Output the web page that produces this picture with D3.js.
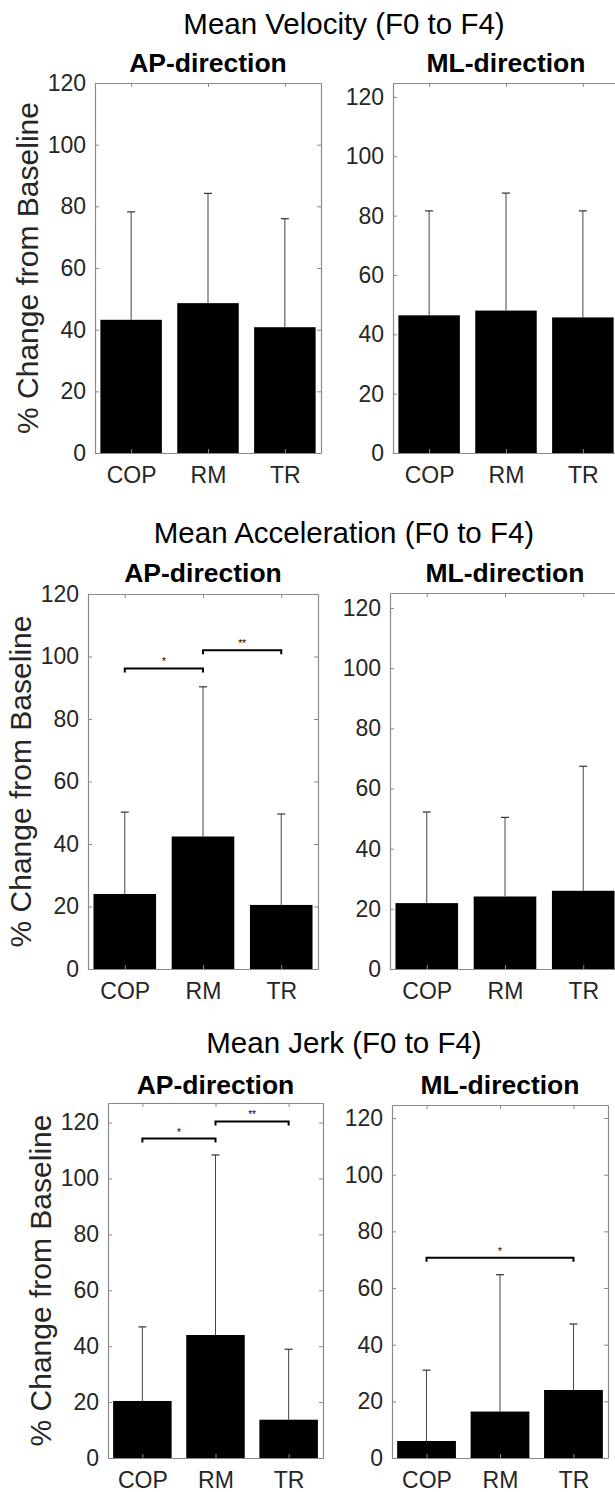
<!DOCTYPE html>
<head>
    <meta charset="utf-8">
    <title>Mean Velocity / Acceleration / Jerk</title>
    <style>
        body { margin: 0; background: #fff; overflow: hidden; }
        text { font-family: "Liberation Sans", Arial, Helvetica, sans-serif; }
    </style>
</head>
<body>

<svg width="615" height="1492"></svg>

<script src="https://d3js.org/d3.v7.min.js"></script>

<script>

// ---- data ----
var categories = ['COP', 'RM', 'TR'];
var yTicks = [0, 20, 40, 60, 80, 100, 120];

var velAPMean = [43.2, 48.6, 40.8],  velAPSd = [35.0, 35.6, 35.2];
var velMLMean = [46.4, 48.0, 45.7],  velMLSd = [35.2, 39.6, 35.9];
var accAPMean = [24.0, 42.4, 20.5],  accAPSd = [26.2, 47.9, 29.1];
var accMLMean = [21.9, 24.1, 26.0],  accMLSd = [30.3, 26.3, 41.4];
var jerkAPMean = [20.4, 44.0, 13.7], jerkAPSd = [26.5, 64.4, 25.2];
var jerkMLMean = [6.0, 16.4, 24.0],  jerkMLSd = [25.0, 48.3, 23.3];

// significance brackets: [from, to, height, label]
var accAPSig = [[0, 1, 96.2, '*'], [1, 2, 102, '**']];
var jerkAPSig = [[0, 1, 114.3, '*'], [1, 2, 120.4, '**']];
var jerkMLSig = [[0, 2, 70.7, '*']];

var yMax = [120, 124.7, 120, 125, 127, 124.6];

// ---- layout ----
var svg = d3.select('svg');
var xlim = [0.53, 3.47];

var rows = [
    { title: 'Mean Velocity (F0 to F4)', ty: 23, sy: 63, panels: [
        { box: [95, 321, 83, 453], mean: velAPMean, sd: velAPSd, sig: [], ymax: yMax[0], name: 'AP-direction', ylab: true },
        { box: [393, 619, 83, 453], mean: velMLMean, sd: velMLSd, sig: [], ymax: yMax[1], name: 'ML-direction' } ] },
    { title: 'Mean Acceleration (F0 to F4)', ty: 532, sy: 573, panels: [
        { box: [88, 318, 594, 969], mean: accAPMean, sd: accAPSd, sig: accAPSig, ymax: yMax[2], name: 'AP-direction', ylab: true },
        { box: [390, 620, 593, 969], mean: accMLMean, sd: accMLSd, sig: [], ymax: yMax[3], name: 'ML-direction' } ] },
    { title: 'Mean Jerk (F0 to F4)', ty: 1042, sy: 1085, panels: [
        { box: [108, 323, 1103, 1458], mean: jerkAPMean, sd: jerkAPSd, sig: jerkAPSig, ymax: yMax[4], name: 'AP-direction', ylab: true },
        { box: [392, 608, 1105, 1458], mean: jerkMLMean, sd: jerkMLSd, sig: jerkMLSig, ymax: yMax[5], name: 'ML-direction' } ] }
];

rows.forEach(row => {
    svg.append('text')
        .attr('x', 344).attr('y', row.ty)
        .attr('text-anchor', 'middle').attr('dominant-baseline', 'central')
        .style('font-size', '29.5px').attr('fill', '#000')
        .text(row.title);

    row.panels.forEach(p => drawPanel(p, row.sy));
});

function drawPanel(p, sy) {
    var [x0, x1, y0, y1] = p.box;
    var x = d3.scaleLinear().domain(xlim).range([x0, x1]);
    var y = d3.scaleLinear().domain([0, p.ymax]).range([y1, y0]);
    var g = svg.append('g');

    // bars
    g.selectAll('rect.bar')
        .data(p.mean)
        .enter().append('rect')
            .attr('class', 'bar')
            .attr('x', (d, i) => x(i + 1 - 0.4))
            .attr('width', (d, i) => x(i + 1.4) - x(i + 0.6))
            .attr('y', d => y(d))
            .attr('height', d => y(0) - y(d))
            .attr('fill', '#000');

    // one-sided error bars (upward)
    var eb = g.selectAll('g.eb')
        .data(p.mean.map((m, i) => ({ i: i, m: m, top: m + p.sd[i] })))
        .enter().append('g');
    eb.append('line')
        .attr('x1', d => x(d.i + 1)).attr('x2', d => x(d.i + 1))
        .attr('y1', d => y(d.m)).attr('y2', d => y(d.top))
        .attr('stroke', '#444').attr('stroke-width', 1);
    eb.append('line')
        .attr('x1', d => x(d.i + 1) - 4).attr('x2', d => x(d.i + 1) + 4)
        .attr('y1', d => y(d.top)).attr('y2', d => y(d.top))
        .attr('stroke', '#333').attr('stroke-width', 1.2);

    // axes - MATLAB style box with inward ticks
    var xticks = [1, 2, 3];
    var axisColor = '#8a8a8a';

    var gl = g.append('g').attr('transform', `translate(${x0},0)`)
        .call(d3.axisLeft(y).tickValues(yTicks).tickSize(-4).tickSizeOuter(0).tickPadding(9));
    var gr = g.append('g').attr('transform', `translate(${x1},0)`)
        .call(d3.axisRight(y).tickValues(yTicks).tickSize(-4).tickSizeOuter(0).tickFormat(''));
    var gb = g.append('g').attr('transform', `translate(0,${y1})`)
        .call(d3.axisBottom(x).tickValues(xticks).tickSize(-4).tickSizeOuter(0).tickPadding(14)
            .tickFormat(d => categories[d - 1]));
    var gt = g.append('g').attr('transform', `translate(0,${y0})`)
        .call(d3.axisTop(x).tickValues(xticks).tickSize(-4).tickSizeOuter(0).tickFormat(''));

    [gl, gr, gb, gt].forEach(a => {
        a.selectAll('path.domain').attr('stroke', axisColor).attr('stroke-width', 1.2);
        a.selectAll('.tick line').attr('stroke', axisColor);
        a.selectAll('.tick text')
            .attr('fill', '#262626')
            .style('font-size', '23px')
            .style('font-family', '"Liberation Sans", Arial, sans-serif');
    });
    gb.selectAll('.tick text').attr('dy', '0.71em');

    // significance brackets
    p.sig.forEach(s => {
        var xa = x(s[0] + 1), xb = x(s[1] + 1), yy = y(s[2]);
        g.append('path')
            .attr('d', `M${xa},${yy + 4}V${yy}H${xb}V${yy + 4}`)
            .attr('fill', 'none').attr('stroke', '#000').attr('stroke-width', 2);
        g.append('text')
            .attr('x', (xa + xb) / 2).attr('y', yy - 3)
            .attr('text-anchor', 'middle')
            .attr('fill', '#000')
            .style('font-size', '10px')
            .text(s[3]);
    });

    // panel title
    svg.append('text')
        .attr('x', (x0 + x1) / 2).attr('y', sy)
        .attr('text-anchor', 'middle').attr('dominant-baseline', 'central')
        .style('font-size', '26.5px').style('font-weight', 'bold')
        .text(p.name);

    // y label
    if (p.ylab) {
        svg.append('text')
            .attr('transform', `translate(${x0 - 68},${(y0 + y1) / 2}) rotate(-90)`)
            .attr('text-anchor', 'middle').attr('dominant-baseline', 'central')
            .style('font-size', '30px').attr('fill', '#262626')
            .text('% Change from Baseline');
    }
}

</script>

</body>
